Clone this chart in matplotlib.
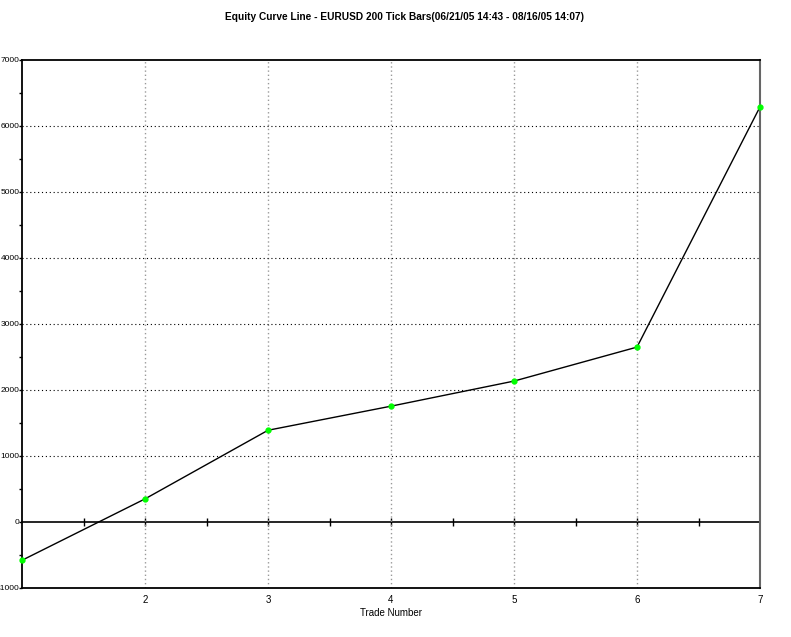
import numpy as np
import matplotlib
matplotlib.use('Agg')
import matplotlib.pyplot as plt

plt.rcParams['font.family'] = ['Liberation Sans', 'DejaVu Sans']

trade_number = [1, 2, 3, 4, 5, 6, 7]
equity = [-580, 350, 1390, 1755, 2135, 2650, 6290]
x_ticks = [2, 3, 4, 5, 6, 7]
y_ticks = [-1000, 0, 1000, 2000, 3000, 4000, 5000, 6000, 7000]

fig = plt.figure(figsize=(7.91, 6.37), dpi=100)
ax = fig.add_axes([22 / 791, 49 / 637, 738 / 791, 528 / 637])

ax.plot(trade_number, equity, color='black', lw=1, zorder=3)
ax.plot(trade_number, equity, ls='none', marker='o', ms=3.5,
        color='#00ff00', mec='#00ff00', zorder=4, clip_on=False)

ax.set_xlim(1, 7)
ax.set_ylim(-1000, 7000)

# grid
for x in x_ticks[:-1]:
    ax.axvline(x, color='#999999', ls=(0, (1, 2)), lw=1, zorder=1)
for y in y_ticks[2:-1]:
    ax.axhline(y, color='black', ls=(0, (1, 2.5)), lw=0.8, zorder=1)

# zero line with its own ticks
zero_ax = ax.secondary_xaxis(1000 / 8000)
zero_ax.set_xticks(np.arange(1.5, 7, 0.5))
zero_ax.tick_params(direction='inout', length=6, width=1, labelbottom=False, labeltop=False)
zero_ax.spines['bottom'].set_linewidth(1.2)

ax.set_xticks(x_ticks)
ax.set_xticklabels([str(v) for v in x_ticks], fontsize=7)
ax.tick_params(axis='x', length=0, pad=5)
ax.set_yticks(y_ticks)
ax.set_yticklabels([str(v) for v in y_ticks], fontsize=6)
ax.set_yticks(np.arange(-500, 7000, 1000), minor=True)
ax.tick_params(axis='y', which='both', direction='out', length=2, width=1, pad=0)

for s in ['left', 'top', 'bottom']:
    ax.spines[s].set_linewidth(1.3)
ax.spines['right'].set_color('#666666')
ax.spines['right'].set_linewidth(1.5)

ax.set_xlabel('Trade Number', fontsize=7, labelpad=2)
fig.text(0.512, 0.973, 'Equity Curve Line - EURUSD 200 Tick Bars(06/21/05 14:43 - 08/16/05 14:07)',
         ha='center', va='center', fontsize=7.3, fontweight='bold')

fig.savefig('out.png', dpi=100)
